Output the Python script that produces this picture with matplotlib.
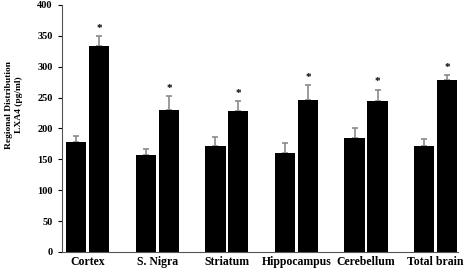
import numpy as np
import matplotlib.pyplot as plt

plt.rcParams['font.family'] = ['Liberation Serif', 'DejaVu Serif']
plt.rcParams['font.weight'] = 'bold'

regions = ['Cortex', 'S. Nigra', 'Striatum', 'Hippocampus', 'Cerebellum', 'Total brain']
control = [178, 157, 171, 161, 184, 171]
control_err = [10, 9, 15, 15, 17, 12]
treated = [333, 230, 229, 246, 245, 278]
treated_err = [17, 22, 15, 24, 18, 9]

x = np.arange(len(regions))
w = 0.29
off = 0.165

fig = plt.figure(figsize=(4.72, 2.73), dpi=100)
ax = fig.add_axes([0.131, 0.077, 0.839, 0.905])

ax.bar(x - off, control, w, color='black', zorder=2)
ax.bar(x + off, treated, w, color='black', zorder=2)
ax.errorbar(x - off, control, yerr=[np.zeros(len(x)), control_err], fmt='none',
            ecolor='#8a8a8a', elinewidth=1.2, capsize=2.5, capthick=1.2, zorder=1)
ax.errorbar(x + off, treated, yerr=[np.zeros(len(x)), treated_err], fmt='none',
            ecolor='#8a8a8a', elinewidth=1.2, capsize=2.5, capthick=1.2, zorder=1)

for xi, v, e in zip(x + off, treated, treated_err):
    ax.text(xi, v + e + 5, '*', ha='center', va='bottom', fontsize=8)

ax.set_xlim(-0.374, 5.32)
ax.set_ylim(0, 400)
ax.set_yticks(range(0, 401, 50))
ax.set_xticks(x)
ax.set_xticklabels(regions, fontsize=8.5, fontweight='bold')
ax.tick_params(axis='x', length=0, pad=3)
ax.tick_params(axis='y', labelsize=7.5, length=3, direction='out')
ax.spines['top'].set_visible(False)
ax.spines['right'].set_visible(False)
ax.spines['left'].set_color('#555555')
ax.spines['bottom'].set_color('#555555')
ax.set_ylabel('Regional Distribution\nLXA4 (pg/ml)', fontsize=6.8, fontweight='bold',
              linespacing=1.3)
ax.yaxis.set_label_coords(-0.098, 0.595)

fig.savefig('out.png', dpi=100)
